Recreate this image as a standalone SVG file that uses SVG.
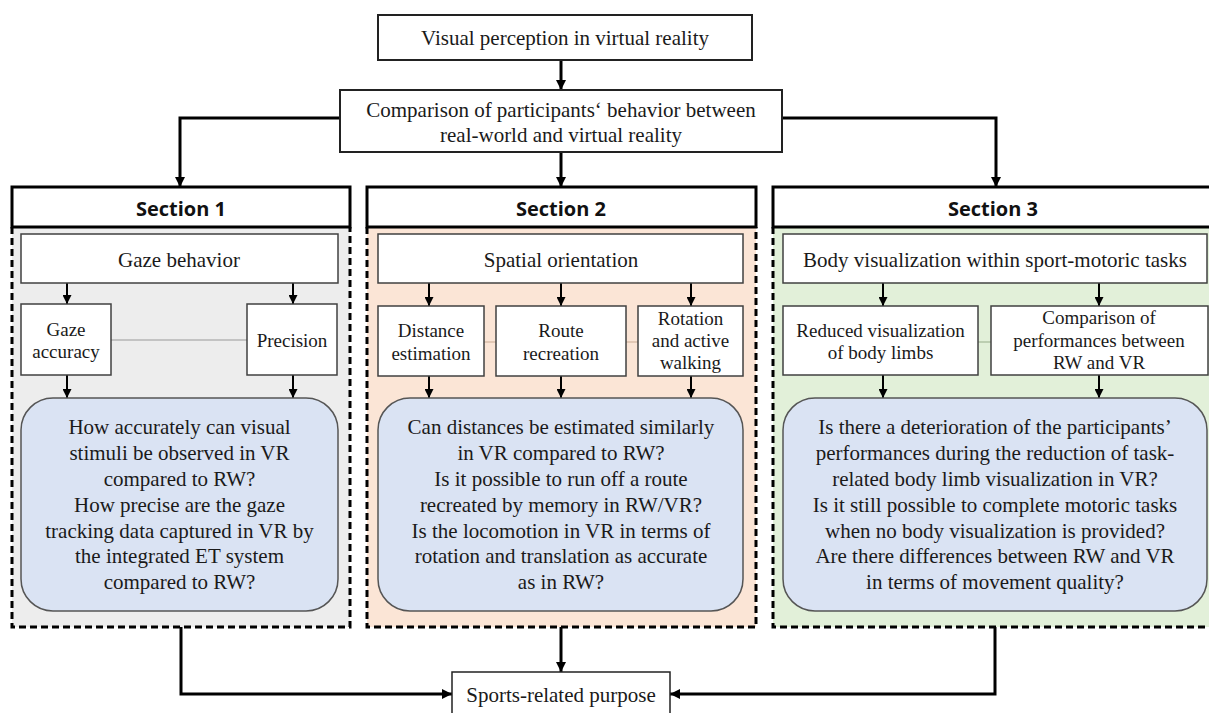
<svg xmlns="http://www.w3.org/2000/svg" width="1209" height="713" viewBox="0 0 1209 713">
  <defs>
    <marker id="ah" markerUnits="userSpaceOnUse" markerWidth="10" markerHeight="10" refX="10" refY="5" orient="auto">
      <path d="M0,0 L10,5 L0,10 z" fill="#000"/>
    </marker>
    <marker id="ahs" markerUnits="userSpaceOnUse" markerWidth="9" markerHeight="9" refX="9" refY="4.5" orient="auto">
      <path d="M0,0 L9,4.5 L0,9 z" fill="#000"/>
    </marker>
    <style>
      .serif { font-family: "Liberation Serif", "Times New Roman", serif; fill: #1a1a1a; text-anchor: middle; }
      .t21 { font-size: 21px; }
      .t19 { font-size: 19px; }
      .head { font-family: "Open Sans", "Liberation Sans", sans-serif; font-weight: bold; font-size: 20px; fill: #111; text-anchor: middle; }
      .box { fill: #fff; stroke: #404040; stroke-width: 1.5; }
      .topbox { fill: #fff; stroke: #222; stroke-width: 2; }
      .q { fill: #dae3f3; stroke: #555; stroke-width: 1.5; }
      .hdr { fill: #fff; stroke: #000; stroke-width: 3; }
      .dash { fill: none; stroke: #000; stroke-width: 3; stroke-dasharray: 7 4; }
      .main { fill: none; stroke: #000; stroke-width: 3; }
      .inner { fill: none; stroke: #000; stroke-width: 2; }
      .link { fill: none; stroke-width: 1.2; }
    </style>
  </defs>

  <rect width="1209" height="713" fill="#fff"/>

  <!-- section panels -->
  <g id="section1">
    <rect x="12" y="227" width="338" height="400" fill="#ededed"/>
    <path class="dash" d="M12,227 V627 H350 V227"/>
    <rect class="hdr" x="12" y="187" width="338" height="40"/>
    <text class="head" x="181" y="216">Section 1</text>
  </g>
  <g id="section2">
    <rect x="367" y="227" width="389" height="400" fill="#fbe5d6"/>
    <path class="dash" d="M367,227 V627 H756 V227"/>
    <rect class="hdr" x="367" y="187" width="389" height="40"/>
    <text class="head" x="561" y="216">Section 2</text>
  </g>
  <g id="section3">
    <rect x="773" y="227" width="440" height="400" fill="#e2f0d9"/>
    <path class="dash" d="M773,227 V627 H1213 V227"/>
    <rect class="hdr" x="773" y="187" width="440" height="40"/>
    <text class="head" x="993" y="216">Section 3</text>
  </g>

  <!-- connectors -->
  <g id="connectors">
    <line class="main" x1="561" y1="60" x2="561" y2="90" marker-end="url(#ah)"/>
    <line class="main" x1="561" y1="152" x2="561" y2="187" marker-end="url(#ah)"/>
    <path class="main" d="M340,118 H180 V187" marker-end="url(#ah)"/>
    <path class="main" d="M782,118 H996 V187" marker-end="url(#ah)"/>

    <!-- section 1 -->
    <line class="inner" x1="67" y1="283" x2="67" y2="304" marker-end="url(#ahs)"/>
    <line class="inner" x1="293" y1="283" x2="293" y2="304" marker-end="url(#ahs)"/>
    <line class="inner" x1="67" y1="375" x2="67" y2="398" marker-end="url(#ahs)"/>
    <line class="inner" x1="293" y1="375" x2="293" y2="398" marker-end="url(#ahs)"/>
    <line class="link" stroke="#9a9a9a" x1="111" y1="340" x2="247" y2="340"/>

    <!-- section 2 -->
    <line class="inner" x1="429" y1="283" x2="429" y2="306" marker-end="url(#ahs)"/>
    <line class="inner" x1="561" y1="283" x2="561" y2="306" marker-end="url(#ahs)"/>
    <line class="inner" x1="691" y1="283" x2="691" y2="306" marker-end="url(#ahs)"/>
    <line class="inner" x1="429" y1="376" x2="429" y2="398" marker-end="url(#ahs)"/>
    <line class="inner" x1="561" y1="376" x2="561" y2="398" marker-end="url(#ahs)"/>
    <line class="inner" x1="691" y1="376" x2="691" y2="398" marker-end="url(#ahs)"/>
    <line class="link" stroke="#d2b49e" x1="484" y1="342" x2="496" y2="342"/>
    <line class="link" stroke="#d2b49e" x1="626" y1="342" x2="638" y2="342"/>

    <!-- section 3 -->
    <line class="inner" x1="883" y1="283" x2="883" y2="306" marker-end="url(#ahs)"/>
    <line class="inner" x1="1099" y1="283" x2="1099" y2="306" marker-end="url(#ahs)"/>
    <line class="inner" x1="883" y1="375" x2="883" y2="398" marker-end="url(#ahs)"/>
    <line class="inner" x1="1099" y1="375" x2="1099" y2="398" marker-end="url(#ahs)"/>
    <line class="link" stroke="#a3b896" x1="978" y1="342" x2="991" y2="342"/>

    <!-- to the sports-related purpose -->
    <path class="main" d="M181,627 V694 H452" marker-end="url(#ah)"/>
    <line class="main" x1="561" y1="627" x2="561" y2="672" marker-end="url(#ah)"/>
    <path class="main" d="M995,627 V694 H670" marker-end="url(#ah)"/>
  </g>

  <!-- top level -->
  <g id="visual-perception">
    <rect class="topbox" x="378" y="15" width="374" height="45"/>
    <text class="serif t21" x="565" y="45">Visual perception in virtual reality</text>
  </g>
  <g id="comparison">
    <rect class="topbox" x="340" y="90" width="442" height="62"/>
    <text class="serif t21" x="561" y="117">Comparison of participants‘ behavior between</text>
    <text class="serif t21" x="561" y="142">real-world and virtual reality</text>
  </g>

  <!-- section 1 nodes -->
  <g id="gaze-behavior">
    <rect class="box" x="21" y="234" width="317" height="49"/>
    <text class="serif t21" x="179" y="267">Gaze behavior</text>
  </g>
  <g id="gaze-accuracy">
    <rect class="box" x="21" y="304" width="90" height="71"/>
    <text class="serif t19" x="66" y="336">Gaze</text>
    <text class="serif t19" x="66" y="358">accuracy</text>
  </g>
  <g id="precision">
    <rect class="box" x="247" y="304" width="90" height="71"/>
    <text class="serif t19" x="292" y="347">Precision</text>
  </g>
  <g id="questions-1">
    <rect class="q" x="21" y="398" width="317" height="213" rx="32" ry="32"/>
    <text class="serif t21" x="179.5" y="434">How accurately can visual</text>
    <text class="serif t21" x="179.5" y="460">stimuli be observed in VR</text>
    <text class="serif t21" x="179.5" y="486">compared to RW?</text>
    <text class="serif t21" x="179.5" y="512">How precise are the gaze</text>
    <text class="serif t21" x="179.5" y="538">tracking data captured in VR by</text>
    <text class="serif t21" x="179.5" y="563">the integrated ET system</text>
    <text class="serif t21" x="179.5" y="589">compared to RW?</text>
  </g>

  <!-- section 2 nodes -->
  <g id="spatial-orientation">
    <rect class="box" x="378" y="234" width="365" height="49"/>
    <text class="serif t21" x="561" y="267">Spatial orientation</text>
  </g>
  <g id="distance-estimation">
    <rect class="box" x="378" y="306" width="106" height="70"/>
    <text class="serif t19" x="431" y="337">Distance</text>
    <text class="serif t19" x="431" y="360">estimation</text>
  </g>
  <g id="route-recreation">
    <rect class="box" x="496" y="306" width="130" height="70"/>
    <text class="serif t19" x="561" y="337">Route</text>
    <text class="serif t19" x="561" y="360">recreation</text>
  </g>
  <g id="rotation-walking">
    <rect class="box" x="638" y="306" width="105" height="70"/>
    <text class="serif t19" x="690.5" y="325">Rotation</text>
    <text class="serif t19" x="690.5" y="347">and active</text>
    <text class="serif t19" x="690.5" y="369">walking</text>
  </g>
  <g id="questions-2">
    <rect class="q" x="378" y="398" width="365" height="213" rx="32" ry="32"/>
    <text class="serif t21" x="561" y="434">Can distances be estimated similarly</text>
    <text class="serif t21" x="561" y="460">in VR compared to RW?</text>
    <text class="serif t21" x="561" y="486">Is it possible to run off a route</text>
    <text class="serif t21" x="561" y="512">recreated by memory in RW/VR?</text>
    <text class="serif t21" x="561" y="538">Is the locomotion in VR in terms of</text>
    <text class="serif t21" x="561" y="563">rotation and translation as accurate</text>
    <text class="serif t21" x="561" y="589">as in RW?</text>
  </g>

  <!-- section 3 nodes -->
  <g id="body-visualization">
    <rect class="box" x="783" y="234" width="424" height="49"/>
    <text class="serif t21" x="995" y="267">Body visualization within sport-motoric tasks</text>
  </g>
  <g id="reduced-visualization">
    <rect class="box" x="783" y="306" width="195" height="69"/>
    <text class="serif t19" x="880.5" y="337">Reduced visualization</text>
    <text class="serif t19" x="880.5" y="359">of body limbs</text>
  </g>
  <g id="performance-comparison">
    <rect class="box" x="991" y="306" width="217" height="69"/>
    <text class="serif t19" x="1099" y="324">Comparison of</text>
    <text class="serif t19" x="1099" y="347">performances between</text>
    <text class="serif t19" x="1099" y="369">RW and VR</text>
  </g>
  <g id="questions-3">
    <rect class="q" x="783" y="398" width="424" height="213" rx="32" ry="32"/>
    <text class="serif t21" x="995" y="434">Is there a deterioration of the participants’</text>
    <text class="serif t21" x="995" y="460">performances during the reduction of task-</text>
    <text class="serif t21" x="995" y="486">related body limb visualization in VR?</text>
    <text class="serif t21" x="995" y="512">Is it still possible to complete motoric tasks</text>
    <text class="serif t21" x="995" y="538">when no body visualization is provided?</text>
    <text class="serif t21" x="995" y="563">Are there differences between RW and VR</text>
    <text class="serif t21" x="995" y="589">in terms of movement quality?</text>
  </g>

  <!-- outcome -->
  <g id="sports-purpose">
    <rect class="topbox" x="452" y="672" width="218" height="50" style="stroke-width:1.5"/>
    <text class="serif t21" x="561" y="702">Sports-related purpose</text>
  </g>
</svg>
